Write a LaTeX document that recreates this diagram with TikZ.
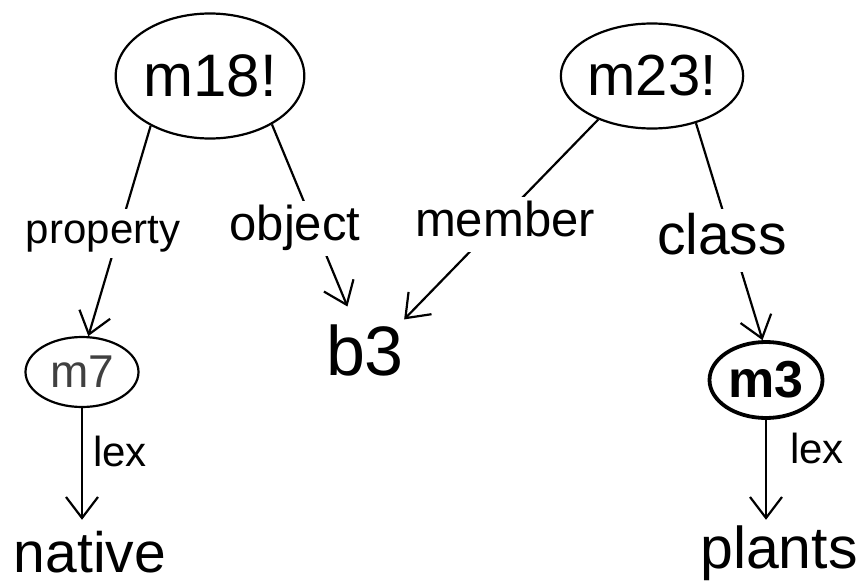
\documentclass[tikz,border=0pt]{standalone}
\usepackage{fontspec}
\setmainfont{Liberation Sans}
\usetikzlibrary{shapes.geometric,arrows.meta}
\newcommand{\fsz}[1]{\fontsize{#1}{#1}\selectfont}
\begin{document}
\begin{tikzpicture}[x=1pt,y=-1pt,
  ovalnode/.style={ellipse, draw, line width=2.2pt, inner sep=0pt},
  word/.style={inner xsep=3pt, inner ysep=3pt},
  edgelab/.style={word, fill=white},
  arr/.style={line width=2.2pt, -{Straight Barb[length=21pt,width=32pt,line width=2.2pt]}}]
\useasboundingbox (0,0) rectangle (861,586);
% concept nodes
\node[ovalnode, minimum width=184pt, minimum height=125pt, font={\fsz{60}}] (m18) at (210,76) {m18!};
\node[ovalnode, minimum width=165pt, minimum height=105pt, font={\fsz{58}}] (m23) at (652,76) {m23!};
\node[ovalnode, minimum width=113pt, minimum height=70pt, font={\fsz{46}}, text=black!75] (m7) at (82,372) {m7};
\node[ovalnode, line width=3.8pt, minimum width=113pt, minimum height=76pt, font={\fsz{52}\bfseries}] (m3) at (766,380) {m3};
\node[ellipse, inner sep=0pt, minimum width=104pt, minimum height=92pt,
      label={[font={\fsz{70}}]center:b3}] (b3) at (365,350) {};
\node[word, text height=52pt, text depth=0pt, inner ysep=0pt, anchor=base, font={\fsz{57}}] (native) at (90,572) {native};
\node[word, text height=44pt, text depth=12pt, inner ysep=4pt, anchor=base, font={\fsz{59}}] (plants) at (779,568) {plants};
% connectors
\draw[arr] (m18.220) -- (m7.80);
\draw[arr] (m18.322) -- (b3.112);
\draw[arr] (m23.219) -- (b3.38);
\draw[arr] (m23.313) -- (m3.95);
\draw[arr] (m7.south) -- (m7.south |- native.north);
\draw[arr] (m3.south) -- (m3.south |- plants.north);
% arc labels
\node[edgelab, text height=32pt, text depth=11pt, font={\fsz{42}}] (prop) at (103,233) {property};
\node[edgelab, text height=37pt, text depth=12pt, font={\fsz{49}}] (obj) at (295,228) {object};
\node[edgelab, text height=37pt, text depth=12pt, font={\fsz{49}}] (mem) at (505,224) {member};
\node[edgelab, text height=43pt, text depth=14pt, font={\fsz{57}}] (cls) at (722,240) {class};
\node[edgelab, text height=32pt, text depth=11pt, font={\fsz{42}}] (lexa) at (120,456) {lex};
\node[edgelab, text height=32pt, text depth=11pt, font={\fsz{42}}] (lexb) at (817,453) {lex};
\end{tikzpicture}
\end{document}
